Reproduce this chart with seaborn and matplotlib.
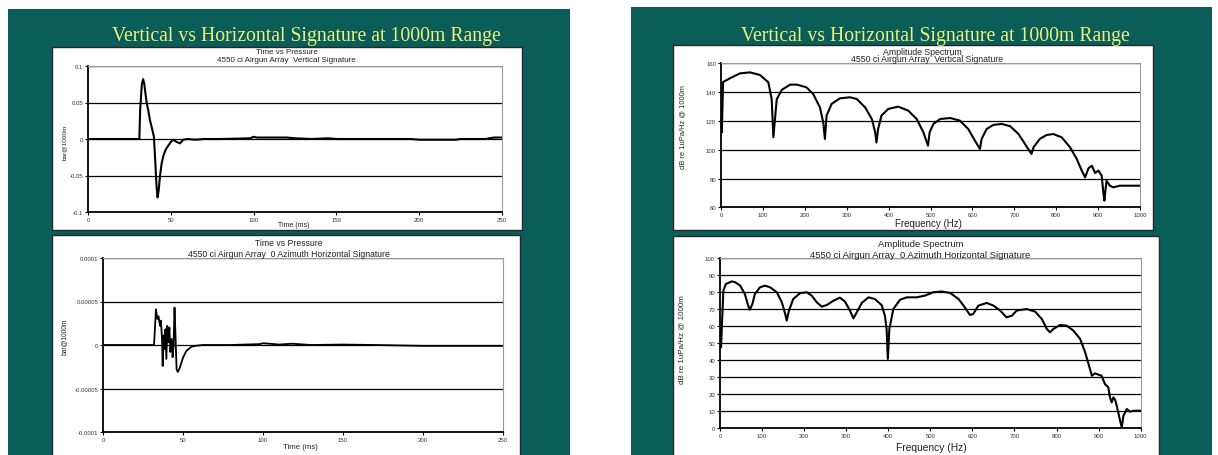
import matplotlib
matplotlib.use("Agg")
import matplotlib.pyplot as plt
from matplotlib.patches import Rectangle
import seaborn as sns
import pandas as pd

# ---------------- data ----------------
# Time vs Pressure, vertical signature (ms, bar@1000m)
vert_time = [0, 31, 31.5, 32.5, 33.3, 34, 35.4, 36.5, 37.4, 38.6, 39.8, 40.6, 41.4, 42,
             42.6, 43.5, 44.5, 45.5, 47, 48.5, 50, 51.5, 53.5, 55.5, 57.5, 60, 65, 70, 80,
             90, 98, 100, 102, 110, 120, 125, 135, 145, 150, 160, 180, 195, 200, 210, 222,
             225, 240, 245, 250]
vert_pressure = [0, 0, 0.04, 0.075, 0.082, 0.075, 0.05, 0.038, 0.026, 0.015, 0.003, -0.03,
                 -0.065, -0.08, -0.072, -0.05, -0.033, -0.023, -0.014, -0.009, -0.004, -0.001,
                 -0.004, -0.006, -0.001, 0, -0.001, 0, 0, 0.0005, 0.001, 0.003, 0.002, 0.002,
                 0.002, 0.001, 0, 0.001, 0, 0, 0, 0, -0.001, -0.001, -0.001, 0, 0, 0.002, 0.002]

# Time vs Pressure, 0 azimuth horizontal signature (ms, bar@1000m)
horz_time = [0, 31.9, 33.1, 33.9, 34.7, 35.6, 36.2, 36.9, 37.3, 37.9, 38.3, 39.0, 39.6, 40.2,
             40.8, 41.5, 42.1, 42.9, 43.5, 44.1, 44.7, 45.3, 46.0, 46.8, 48.0, 50.1, 52.2,
             55.3, 58.4, 62.5, 80, 98, 100, 104, 110, 118, 122, 130, 150, 170, 200, 250]
horz_pressure = [0, 0, 4.1e-5, 3.0e-5, 3.3e-5, 2.2e-5, 2.8e-5, 0.7e-5, -2.4e-5, 1.1e-5,
                 -0.5e-5, 1.8e-5, -1.6e-5, 2.2e-5, 0.3e-5, 2.0e-5, -0.8e-5, 0.7e-5, -1.4e-5,
                 -0.1e-5, 4.3e-5, 1.1e-5, -2.8e-5, -3.1e-5, -2.6e-5, -1.4e-5, -0.65e-5,
                 -0.2e-5, -0.08e-5, 0, 0, 0.1e-5, 0.2e-5, 0.15e-5, 0.05e-5, 0.15e-5, 0.1e-5,
                 0, 0.05e-5, 0, -0.1e-5, -0.1e-5]

# Amplitude spectrum, vertical signature (Hz, dB re 1uPa/Hz @ 1000m)
vspec_freq = [0, 2, 5, 21.5, 45, 69, 93, 113, 121, 125, 133, 145, 165, 181, 204, 220, 236,
              244, 248, 252, 264, 284, 308, 324, 344, 360, 368, 371, 375, 383, 399, 423, 447,
              467, 483, 494, 498, 507, 523, 547, 570, 590, 606, 618, 622, 634, 650, 670, 690,
              710, 725.5, 741, 746, 761, 777, 793, 813, 833, 849, 861, 869, 877, 885, 893,
              900.6, 908.5, 912.5, 915, 920, 928, 936, 952, 1000]
vspec_db = [130, 112, 147, 149.6, 153, 153.7, 151.9, 146.8, 135, 108.6, 135, 141.5, 145.2,
            145.2, 143.3, 138.7, 129.4, 119, 107.5, 123.7, 131.8, 135.7, 136.4, 135.2, 129.4,
            121.3, 112, 105, 114.4, 123.7, 128.3, 129.9, 127.1, 121.3, 112.1, 102.8, 112.1,
            117.9, 121.3, 122, 120.2, 114.4, 106.3, 100.5, 107.5, 114.4, 117.2, 117.9, 116.3,
            110.9, 104, 97, 101.7, 107.5, 110.2, 110.9, 108.6, 101.7, 93.6, 85.5, 80.8, 87.1,
            88.9, 83.8, 85.5, 82, 70.4, 64.6, 78.5, 75, 73.9, 75, 75]

# Amplitude spectrum, 0 azimuth horizontal signature
hspec_freq = [0, 2.4, 8, 14, 20, 28, 36, 48, 59, 67, 71, 77, 83, 95, 107, 119, 135, 147, 155,
              158.5, 164, 174, 190, 206, 218, 230, 242, 254, 269, 285, 297, 309, 317, 323, 337,
              353, 368, 384, 392, 396, 399, 402.5, 412, 428, 444, 467.5, 487, 507, 527, 547,
              567, 582, 594, 602, 614, 634, 650, 666, 681, 694, 705, 729, 749, 765, 777, 784.5,
              792, 808, 824, 840, 856, 868, 876, 884, 891, 907, 915, 923, 927, 931, 935, 939,
              943, 951, 955, 959, 967, 975, 983, 1000]
hspec_db = [60, 47.5, 81, 84.9, 85.5, 86.4, 85.9, 83.9, 79, 72.1, 69.7, 73.1, 79, 82.9, 83.9,
            82.9, 80, 74.1, 67.2, 63.3, 69.2, 76, 79.4, 80, 78, 74.1, 71.5, 72.5, 74.9, 76.8,
            74.5, 69.2, 64.6, 67.2, 73.7, 77, 76, 72.5, 66.2, 58.3, 40.7, 58.3, 70.1, 75.6, 77,
            77, 78, 80, 80.4, 79.6, 76, 71.1, 66.6, 67.2, 72.1, 73.7, 72.1, 69.2, 65.2, 66.2,
            69.2, 70.1, 68.6, 64.2, 58.3, 56.4, 58.3, 60.7, 60.3, 57.4, 52.5, 44.6, 37.7, 30.8,
            32.2, 30.8, 25.9, 24, 18, 15.1, 18, 16.7, 13.2, 4.3, 0.4, 7.3, 11.2, 9.6, 10.2, 10.2]

slide_title = "Vertical vs Horizontal Signature at 1000m Range"
time_title = "Time vs Pressure"
spec_title = "Amplitude Spectrum"
sub_vert = "4550 ci Airgun Array  Vertical Signature"
sub_horz = "4550 ci Airgun Array  0 Azimuth Horizontal Signature"
time_xlabel = "Time (ms)"
freq_xlabel = "Frequency (Hz)"
time_ylabel = "bar@1000m"
spec_ylabel = "dB re 1uPa/Hz @ 1000m"

time_ticks = [0, 50, 100, 150, 200, 250]
vert_yticks = [-0.1, -0.05, 0, 0.05, 0.1]
vert_ylabels = ["-0.1", "-0.05", "0", "0.05", "0.1"]
horz_yticks = [-0.0001, -0.00005, 0, 0.00005, 0.0001]
horz_ylabels = ["-0.0001", "-0.00005", "0", "0.00005", "0.0001"]
freq_ticks = [0, 100, 200, 300, 400, 500, 600, 700, 800, 900, 1000]
vspec_yticks = [60, 80, 100, 120, 140, 160]
hspec_yticks = [0, 10, 20, 30, 40, 50, 60, 70, 80, 90, 100]

# ---------------- figure ----------------
sns.set_theme(style="white")
plt.rcParams["font.family"] = ["Liberation Sans", "DejaVu Sans"]

W, H = 1218, 456
fig = plt.figure(figsize=(W / 100, H / 100), dpi=100, facecolor="white")

TEAL = "#0b5d59"
YEL = "#e8f07e"


def rect(x0, y0, x1, y1, z, **kw):
    fig.patches.append(Rectangle((x0 / W, 1 - y1 / H), (x1 - x0) / W, (y1 - y0) / H,
                                 transform=fig.transFigure, figure=fig, zorder=z, **kw))


def ftext(x, y, s, **kw):
    fig.text(x / W, 1 - y / H, s, ha="center", va="center", zorder=5, **kw)


# slides
rect(8, 10, 570, 458, -3, facecolor=TEAL, edgecolor="none")
rect(631, 8, 1212, 458, -3, facecolor=TEAL, edgecolor="none")
# white chart panels
rect(52, 48, 522, 231, -2, facecolor="white", edgecolor="#1f2b2a", lw=1.0)
rect(52, 236, 520, 470, -2, facecolor="white", edgecolor="#1f2b2a", lw=1.0)
rect(673, 46, 1153, 231, -2, facecolor="white", edgecolor="#1f2b2a", lw=1.0)
rect(673, 237, 1159, 470, -2, facecolor="white", edgecolor="#1f2b2a", lw=1.0)

# slide titles
for cx in (306, 935):
    ftext(cx, 36, slide_title, color=YEL, fontsize=14.2,
          family=["Liberation Serif", "DejaVu Serif"])


def make_ax(l, t, r, b):
    ax = fig.add_axes([l / W, 1 - b / H, (r - l) / W, (b - t) / H])
    ax.set_zorder(2)
    ax.set_facecolor("white")
    for s in ("left", "bottom"):
        ax.spines[s].set_color("black")
        ax.spines[s].set_linewidth(1.3)
    for s in ("top", "right"):
        ax.spines[s].set_color("#9a9a9a")
        ax.spines[s].set_linewidth(0.8)
    ax.yaxis.grid(True, color="black", lw=0.9)
    ax.xaxis.grid(False)
    ax.tick_params(axis="both", direction="out", length=2.0, width=0.8, color="black",
                   labelsize=4.3, labelcolor="#333333", pad=1.5, left=True, bottom=True)
    return ax


# ---- left top: vertical time signature
ax1 = make_ax(88, 67, 502, 213)
sns.lineplot(data=pd.DataFrame({"t": vert_time, "p": vert_pressure}), x="t", y="p",
             ax=ax1, color="black", lw=1.5, sort=False, estimator=None)
ax1.set_xlim(0, 250)
ax1.set_ylim(-0.1, 0.1)
ax1.set_xticks(time_ticks)
ax1.set_yticks(vert_yticks)
ax1.set_yticklabels(vert_ylabels)
ax1.set_xlabel("")
ax1.set_ylabel("")

# ---- left bottom: horizontal time signature
ax2 = make_ax(103, 259, 503, 433)
sns.lineplot(data=pd.DataFrame({"t": horz_time, "p": horz_pressure}), x="t", y="p",
             ax=ax2, color="black", lw=1.3, sort=False, estimator=None)
ax2.set_xlim(0, 250)
ax2.set_ylim(-0.0001, 0.0001)
ax2.set_xticks(time_ticks)
ax2.set_yticks(horz_yticks)
ax2.set_yticklabels(horz_ylabels)
ax2.set_xlabel("")
ax2.set_ylabel("")

# ---- right top: vertical spectrum
ax3 = make_ax(721, 64.3, 1140, 208.3)
sns.lineplot(data=pd.DataFrame({"f": vspec_freq, "db": vspec_db}), x="f", y="db",
             ax=ax3, color="black", lw=1.5, sort=False, estimator=None)
ax3.set_xlim(0, 1000)
ax3.set_ylim(60, 160)
ax3.set_xticks(freq_ticks)
ax3.set_yticks(vspec_yticks)
ax3.set_xlabel("")
ax3.set_ylabel("")

# ---- right bottom: horizontal spectrum
ax4 = make_ax(720, 259.3, 1140.7, 429)
sns.lineplot(data=pd.DataFrame({"f": hspec_freq, "db": hspec_db}), x="f", y="db",
             ax=ax4, color="black", lw=1.5, sort=False, estimator=None)
ax4.set_xlim(0, 1000)
ax4.set_ylim(0, 100)
ax4.set_xticks(freq_ticks)
ax4.set_yticks(hspec_yticks)
ax4.set_xlabel("")
ax4.set_ylabel("")

# ---- panel titles and axis labels
TC = "#222222"
ftext(287, 52, time_title, fontsize=5.8, color=TC)
ftext(286, 60.7, sub_vert, fontsize=5.8, color=TC)
ftext(289, 244, time_title, fontsize=6.2, color=TC)
ftext(289, 254.3, sub_horz, fontsize=6.2, color=TC)
ftext(922, 52.3, spec_title, fontsize=6.3, color=TC)
ftext(927, 60, sub_vert, fontsize=6.3, color=TC)
ftext(921, 245, spec_title, fontsize=6.8, color=TC)
ftext(920, 255.7, sub_horz, fontsize=6.8, color=TC)

ftext(294, 225.5, time_xlabel, fontsize=5.0, color=TC)
ftext(300, 448, time_xlabel, fontsize=5.6, color=TC)
ftext(928, 224.5, freq_xlabel, fontsize=7.0, color=TC)
ftext(931, 448, freq_xlabel, fontsize=7.4, color=TC)

ftext(64, 142, time_ylabel, fontsize=4.6, color=TC, rotation=90)
ftext(64, 337, time_ylabel, fontsize=4.8, color=TC, rotation=90)
ftext(683, 127, spec_ylabel, fontsize=5.4, color=TC, rotation=90)
ftext(682, 340, spec_ylabel, fontsize=5.8, color=TC, rotation=90)

fig.savefig("out.png", dpi=100, facecolor="white")
